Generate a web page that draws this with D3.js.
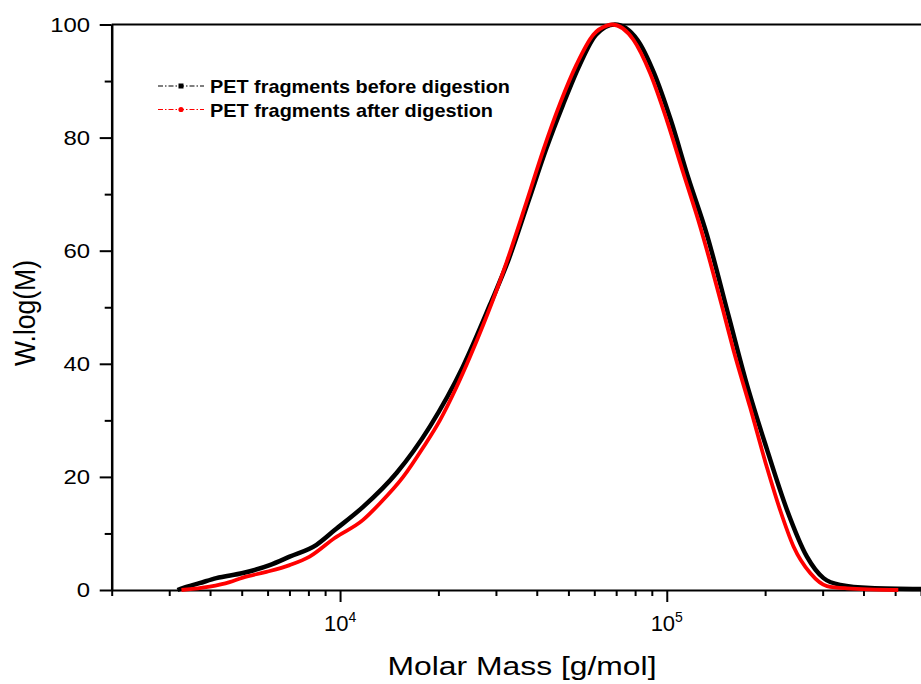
<!DOCTYPE html>
<html>
<head>
<meta charset="utf-8">
<script src="https://cdn.jsdelivr.net/npm/d3@7"></script>
<style>
  body { margin: 0; background: #fff; }
  svg { display: block; font-family: "Liberation Sans", Arial, sans-serif; }
</style>
</head>
<body>
<svg id="chart" width="921" height="684"></svg>
<script>
// molar mass [g/mol] and W.log(M)
var massBefore = [3180, 3300, 3710, 4180, 5040, 6090, 7010, 8470, 9630, 11760, 14890, 18830, 23770, 28740,
  32880, 37850, 42680, 48120, 54070, 60740, 69400, 81260, 91430, 102870, 116200, 132600, 154400, 173800,
  202500, 233200, 268500, 301900, 339600, 419700, 600000]
var wBefore = [0, 0.35, 1.2, 2.1, 3.0, 4.4, 5.9, 8.0, 10.6, 14.7, 20.7, 28.9, 39.5, 50.4,
  58.6, 69.0, 77.9, 85.8, 92.8, 98.2, 100, 97.3, 91.4, 83.1, 73.0, 62.9, 48.6, 37.4,
  24.9, 14.2, 5.9, 2.1, 0.9, 0.35, 0.18]

var massAfter = [3270, 3990, 4590, 5040, 5950, 7010, 8070, 9630, 11760, 13230, 15600, 17960, 20210,
  22730, 24970, 27430, 29420, 32350, 37250, 41880, 47110, 53010, 59590, 65520, 68000, 79030, 88890,
  100000, 112400, 126500, 138900, 149100, 159900, 179900, 202500, 222400, 244300, 274800, 309200, 356000, 511200]
var wAfter = [0, 0.6, 1.4, 2.2, 3.2, 4.4, 5.9, 9.2, 12.4, 15.3, 20.0, 25.2, 30.0,
  35.9, 41.2, 46.9, 51.4, 58.0, 68.7, 77.8, 86.0, 93.0, 98.2, 99.8, 100, 97.3, 91.4,
  83.1, 73.7, 64.3, 55.9, 49.2, 42.5, 32.3, 21.7, 14.1, 7.7, 3.0, 0.7, 0.3, 0]

var seriesNames = ['PET fragments before digestion', 'PET fragments after digestion']
var seriesColors = ['#000000', '#ff0000']

var yMajor = [0, 20, 40, 60, 80, 100]
var yMinor = [10, 30, 50, 70, 90]
var xMajor = [1e4, 1e5]
var xMinor = [2e3, 3e3, 4e3, 5e3, 6e3, 7e3, 8e3, 9e3, 2e4, 3e4, 4e4, 5e4, 6e4, 7e4, 8e4, 9e4, 2e5, 3e5, 4e5, 5e5, 6e5]

var FONT = '"Liberation Sans", Arial, sans-serif'
var svg = d3.select('#chart')
var plotLeft = 111.7, plotRight = 921, plotTop = 24.5, plotBottom = 590

var x = d3.scaleLog().domain([2000, 600000]).range([plotLeft, plotRight])
var y = d3.scaleLinear().domain([0, 100]).range([plotBottom, plotTop])

// top frame line
svg.append('line').attr('x1', plotLeft).attr('x2', plotRight).attr('y1', plotTop).attr('y2', plotTop)
  .attr('stroke', '#000').attr('stroke-width', 2)

// y axis
var gy = svg.append('g').attr('transform', 'translate(' + plotLeft + ',0)')
  .call(d3.axisLeft(y).tickValues(yMajor).tickSize(12).tickSizeOuter(0).tickPadding(7))
gy.append('g').call(d3.axisLeft(y).tickValues(yMinor).tickSize(7).tickFormat(''))
gy.selectAll('.domain').filter(function (d, i) { return i > 0 }).remove()
gy.selectAll('path').attr('stroke-width', 2.5)
gy.selectAll('line').attr('stroke-width', 2)
gy.selectAll('text').attr('font-size', 21).attr('font-family', FONT)
  .attr('transform', 'scale(1.14,1)').attr('fill', '#000')

// x axis
var gx = svg.append('g').attr('transform', 'translate(0,' + plotBottom + ')')
  .call(d3.axisBottom(x).tickValues(xMajor).tickSize(12).tickSizeOuter(0).tickFormat(''))
gx.append('g').call(d3.axisBottom(x).tickValues(xMinor).tickSize(6).tickFormat(''))
gx.selectAll('.domain').filter(function (d, i) { return i > 0 }).remove()
gx.selectAll('path').attr('stroke-width', 2)
gx.selectAll('line').attr('stroke-width', 2)

xMajor.forEach(function (m) {
  var t = gx.append('text').attr('x', x(m)).attr('y', 40.7)
    .attr('text-anchor', 'middle').attr('font-size', 22).attr('font-family', FONT).attr('fill', '#000')
  t.append('tspan').text('10')
  t.append('tspan').attr('font-size', 14).attr('dy', -9).text(Math.round(Math.log10(m)))
})

// titles
svg.append('text')
  .attr('transform', 'translate(35,313) scale(1.13,1) rotate(-90)')
  .attr('text-anchor', 'middle').attr('font-size', 26.5)
  .text('W.log(M)')

svg.append('text')
  .attr('x', 522).attr('y', 675)
  .attr('text-anchor', 'middle').attr('font-size', 26)
  .attr('textLength', 269).attr('lengthAdjust', 'spacingAndGlyphs')
  .text('Molar Mass [g/mol]')

// curves
var line = d3.line()
  .x(function (d) { return x(d[0]) })
  .y(function (d) { return y(d[1]) })
  .curve(d3.curveMonotoneX)

var before = d3.zip(massBefore, wBefore)
var after = d3.zip(massAfter, wAfter)

svg.append('path').datum(before)
  .attr('d', line).attr('fill', 'none')
  .attr('stroke', seriesColors[0]).attr('stroke-width', 4.5).attr('stroke-linejoin', 'round')

svg.append('path').datum(after)
  .attr('d', line).attr('fill', 'none')
  .attr('stroke', seriesColors[1]).attr('stroke-width', 3.8).attr('stroke-linejoin', 'round')

// legend
var legend = svg.append('g')
var legendY = [86, 109.5]
seriesNames.forEach(function (name, i) {
  var ly = legendY[i]
  legend.append('line').attr('x1', 158).attr('x2', 204).attr('y1', ly).attr('y2', ly)
    .attr('stroke', seriesColors[i]).attr('stroke-width', 1.2).attr('stroke-dasharray', '5,2,1.5,2')
  if (i === 0) {
    legend.append('rect').attr('x', 178.5).attr('y', ly - 2.5).attr('width', 5).attr('height', 5)
      .attr('fill', seriesColors[i])
  } else {
    legend.append('circle').attr('cx', 181).attr('cy', ly).attr('r', 2.6).attr('fill', seriesColors[i])
  }
  legend.append('text').attr('x', 210).attr('y', ly + 7)
    .attr('font-size', 17.7).attr('font-weight', 'bold')
    .attr('textLength', i === 0 ? 300 : 283).attr('lengthAdjust', 'spacingAndGlyphs')
    .text(name)
})
</script>
</body>
</html>
